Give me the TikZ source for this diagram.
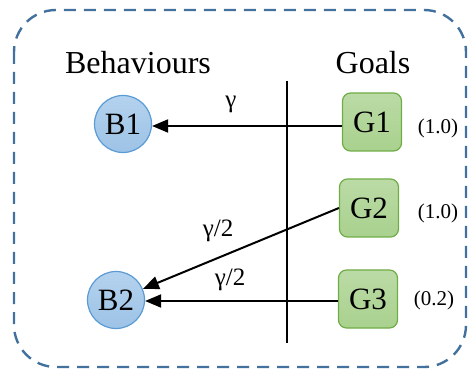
\documentclass[tikz,border=0pt]{standalone}
\usepackage{fontspec}
\setmainfont{Liberation Serif}
\usetikzlibrary{arrows.meta}
\definecolor{frameblue}{HTML}{41719C}
\definecolor{bfill}{HTML}{9DC3E6}
\definecolor{bfilltop}{HTML}{B4D2EE}
\definecolor{bdraw}{HTML}{5B9BD5}
\definecolor{gfill}{HTML}{A9D18E}
\definecolor{gfilltop}{HTML}{BBDBA6}
\definecolor{gdraw}{HTML}{70AD47}
\tikzset{
  behav/.style={circle, draw=bdraw, line width=0.6pt, top color=bfilltop, bottom color=bfill,
    minimum size=28.5pt, inner sep=0pt, font=\fontsize{15.5}{15.5}\selectfont},
  goal/.style={rectangle, rounded corners=4pt, draw=gdraw, line width=0.6pt, top color=gfilltop,
    bottom color=gfill, minimum width=29.5pt, minimum height=29pt, inner sep=0pt,
    font=\fontsize{15.5}{15.5}\selectfont},
  weight/.style={font=\fontsize{10.5}{10.5}\selectfont},
  heading/.style={font=\fontsize{16}{16}\selectfont},
  gain/.style={font=\fontsize{12.5}{12.5}\selectfont},
  link/.style={line width=1pt, -{Triangle[length=8pt,width=6.5pt]}}
}
\begin{document}
\begin{tikzpicture}[x=0.5pt,y=-0.5pt]
\useasboundingbox (0,0) rectangle (470,373);
% dashed enclosing frame
\draw[frameblue, line width=1.2pt, dash pattern=on 6pt off 4pt, rounded corners=21pt]
  (14,10) rectangle (466,367);
% headings
\node[heading] (hb) at (138,63) {Behaviours};
\node[heading] (hg) at (373,63) {Goals};
% separator
\coordinate (st) at (287,81);
\coordinate (sb) at (287,343);
\draw[line width=1pt] (st) -- (sb);
% behaviours
\node[behav] (b1) at (123,124) {B1};
\node[behav] (b2) at (116,300) {B2};
% goals
\node[goal] (g1) at (372,122) {G1};
\node[goal] (g2) at (369,208) {G2};
\node[goal] (g3) at (368,299) {G3};
% goal weights
\node[weight] (w1) at (438,128) {(1.0)};
\node[weight] (w2) at (438,213) {(1.0)};
\node[weight] (w3) at (434,300) {(0.2)};
% links
\draw[link] (g1.west |- 0,126) -- (b1.east |- 0,126);
\draw[link] (g2.west) -- (b2);
\draw[link] (g3.west |- 0,301) -- (b2.east |- 0,301);
% gains
\node[gain] (l1) at (231,104) {γ};
\node[gain] (l2) at (218,231) {γ/2};
\node[gain] (l3) at (230,280) {γ/2};
\end{tikzpicture}
\end{document}
